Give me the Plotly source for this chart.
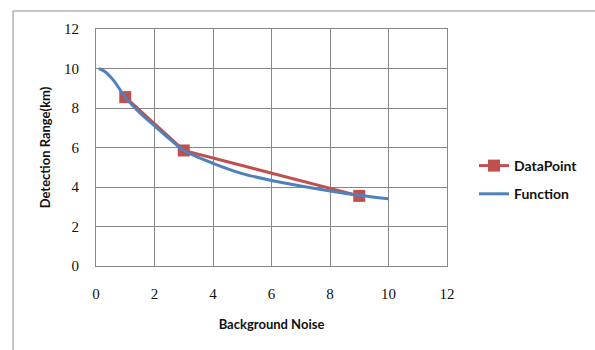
import plotly.graph_objects as go

# Measured detection range at three background-noise levels
data_x = [1, 3, 9]
data_y = [8.55, 5.85, 3.55]

# Fitted detection-range function, sampled along the noise axis
func_x = [0.1, 0.3, 0.6, 1.0, 1.5, 2.0, 2.5, 3.0, 4.0, 5.0, 6.0, 7.0, 8.0, 9.0, 10.0]
func_y = [10.0, 9.85, 9.4, 8.55, 7.75, 7.1, 6.45, 5.85, 5.2, 4.68, 4.33, 4.05, 3.8, 3.58, 3.4]

axis_ticks = [0, 2, 4, 6, 8, 10, 12]

RED = "#C0504D"
BLUE = "#4F81BD"
GRID = "#878787"

W, H = 595, 350
L, R, T, B = 96, 148, 29, 84
pw, ph = W - L - R, H - T - B

fig = go.Figure()
fig.add_trace(go.Scatter(
    x=data_x, y=data_y, name="<b>DataPoint</b>", mode="lines+markers",
    legendgroup="data",
    line=dict(color=RED, width=3),
    marker=dict(symbol="square", size=12, color=RED),
))
fig.add_trace(go.Scatter(
    x=func_x, y=func_y, name="<b>Function</b>", mode="lines",
    legendgroup="func",
    line=dict(color=BLUE, width=3, shape="spline", smoothing=0.8),
))

tick_font = dict(family="Liberation Serif, DejaVu Serif, serif", size=15, color="#111")
title_font = dict(family="Lato, Open Sans, sans-serif", size=13, color="#111")

fig.update_xaxes(
    range=[0, 12], tickvals=axis_ticks, showgrid=True, gridcolor=GRID, gridwidth=1,
    showline=True, linecolor=GRID, mirror=True, zeroline=False,
    ticks="outside", ticklen=14, tickcolor="rgba(0,0,0,0)", tickfont=tick_font,
    title=dict(text="<b>Background Noise</b>", font=title_font, standoff=18),
)
fig.update_yaxes(
    range=[0, 12], tickvals=axis_ticks, showgrid=True, gridcolor=GRID, gridwidth=1,
    showline=True, linecolor=GRID, mirror=True, zeroline=False,
    ticks="outside", ticklen=13, tickcolor="rgba(0,0,0,0)", tickfont=tick_font,
    title=dict(text="<b>Detection Range(km)</b>", font=title_font, standoff=10),
)

# Outer chart-area frame (left and top edges)
fx = (13 - L) / pw
fy = 1 + (T - 11) / ph
fig.add_shape(type="line", xref="paper", yref="paper",
              x0=fx, y0=fy, x1=(W + 5 - L) / pw, y1=fy,
              line=dict(color="#8c8c8c", width=1))
fig.add_shape(type="line", xref="paper", yref="paper",
              x0=fx, y0=fy, x1=fx, y1=-(B + 5) / ph,
              line=dict(color="#8c8c8c", width=1))

fig.update_layout(
    width=W, height=H,
    margin=dict(l=L, r=R, t=T, b=B),
    paper_bgcolor="white", plot_bgcolor="white",
    showlegend=True,
    legend=dict(
        x=(474 - L) / pw, y=1 - (150 - T) / ph, xanchor="left", yanchor="top",
        font=dict(family="Lato, Open Sans, sans-serif", size=14, color="#111"),
        bgcolor="rgba(0,0,0,0)", itemwidth=30, tracegroupgap=7,
    ),
)

fig.write_html("out.html")
